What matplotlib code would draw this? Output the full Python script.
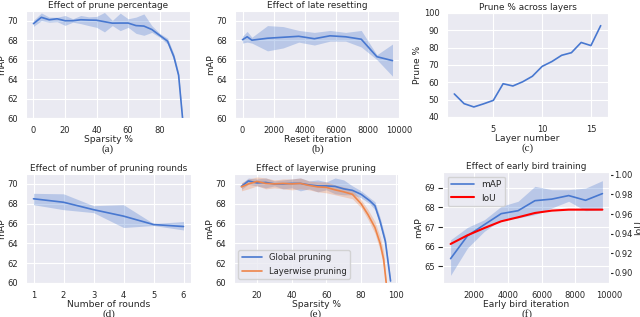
import numpy as np
import matplotlib
matplotlib.use("Agg")
import matplotlib.pyplot as plt
import seaborn as sns

sns.set_style("darkgrid")
plt.rcParams['font.family'] = ['DejaVu Sans']

blue = "#4878d0"
orange = "#ee854a"

# (a) prune percentage
a_x = [0, 5, 10, 15, 20, 25, 30, 35, 40, 45, 50, 55, 60, 65, 70, 75, 80, 85, 89, 92, 94.5]
a_y = [69.7, 70.35, 70.1, 70.2, 70.0, 70.0, 70.1, 70.07, 70.05, 69.9, 69.75, 69.76, 69.76, 69.5, 69.45, 69.1, 68.5, 67.9, 66.3, 64.4, 60.0]
a_lo = [69.42, 70.0, 69.85, 69.9, 69.52, 69.85, 69.7, 69.5, 69.32, 68.85, 69.5, 68.98, 69.32, 68.7, 68.5, 68.8, 68.3, 67.6, 65.9, 64.0, 59.8]
a_hi = [70.03, 70.8, 70.37, 70.35, 70.54, 70.2, 70.54, 70.4, 70.44, 70.85, 70.03, 70.78, 70.2, 70.37, 70.7, 69.5, 68.7, 68.2, 66.6, 64.7, 60.2]

# (b) late resetting
b_x = [0, 300, 600, 1600, 2600, 3600, 4600, 5600, 6600, 7600, 8600, 9600]
b_y = [68.05, 68.35, 68.0, 68.2, 68.3, 68.4, 68.15, 68.45, 68.35, 68.1, 66.3, 65.9]
b_lo = [67.7, 67.8, 67.7, 66.9, 67.2, 67.8, 67.5, 67.9, 67.9, 67.3, 66.0, 64.3]
b_hi = [68.4, 68.9, 68.3, 69.5, 69.4, 69.0, 68.8, 69.0, 68.8, 69.0, 66.5, 67.6]

# (c) prune % per layer
c_layer = list(range(1, 17))
c_pct = [53.3, 47.7, 45.8, 47.6, 49.6, 59.2, 57.9, 60.3, 63.5, 69.2, 72.0, 75.6, 77.1, 83.0, 81.2, 92.7]

# (d) pruning rounds
d_x = [1, 2, 3, 4, 5, 6]
d_y = [68.5, 68.15, 67.4, 66.75, 65.9, 65.7]
d_lo = [67.9, 67.4, 67.1, 65.6, 65.8, 65.35]
d_hi = [69.05, 69.0, 67.8, 67.9, 66.0, 66.2]

# (e) global vs layerwise
eg_x = [11, 15, 20, 25, 30, 35, 40, 45, 50, 55, 60, 65, 70, 75, 80, 85, 88, 91, 94, 97]
eg_y = [69.75, 70.3, 70.1, 70.15, 70.0, 70.0, 70.05, 70.05, 69.9, 69.8, 69.8, 69.75, 69.5, 69.35, 68.95, 68.3, 67.8, 66.2, 64.2, 60.2]
eg_lo = [69.45, 69.95, 69.8, 69.6, 69.8, 69.5, 69.6, 69.3, 69.5, 69.2, 69.4, 69.0, 68.9, 68.9, 68.6, 68.0, 67.4, 65.8, 63.8, 59.9]
eg_hi = [70.05, 70.6, 70.5, 70.6, 70.3, 70.4, 70.5, 70.6, 70.3, 70.4, 70.2, 70.6, 70.4, 69.8, 69.3, 68.6, 68.2, 66.6, 64.6, 60.5]

el_x = [11, 15, 20, 25, 30, 35, 40, 45, 50, 55, 60, 65, 70, 75, 80, 84, 88, 91, 93, 94.5]
el_y = [69.7, 70.0, 70.25, 70.05, 70.0, 70.05, 70.0, 70.05, 69.85, 69.7, 69.65, 69.4, 69.2, 68.95, 68.0, 66.9, 65.6, 64.0, 62.4, 60.0]
el_lo = [69.3, 69.5, 69.8, 69.5, 69.6, 69.5, 69.4, 69.5, 69.4, 69.2, 69.1, 68.9, 68.7, 68.5, 67.6, 66.4, 65.0, 63.3, 61.6, 59.5]
el_hi = [70.1, 70.5, 70.7, 70.6, 70.4, 70.5, 70.5, 70.6, 70.3, 70.2, 70.2, 69.9, 69.7, 69.4, 68.4, 67.4, 66.2, 64.7, 63.2, 60.5]

# (f) early bird
f_x = [600, 1600, 2600, 3600, 4600, 5600, 6600, 7600, 8600, 9600]
f_map = [65.39, 66.55, 67.12, 67.68, 67.83, 68.34, 68.42, 68.6, 68.36, 68.7]
f_lo = [64.54, 65.93, 66.78, 67.37, 67.46, 67.63, 67.97, 68.31, 67.83, 67.88]
f_hi = [66.35, 66.98, 67.37, 68.05, 68.31, 69.07, 68.9, 68.9, 68.98, 69.36]
f_iou = [0.9294, 0.9383, 0.9457, 0.9526, 0.9567, 0.9611, 0.9635, 0.9645, 0.9645, 0.9645]

W, H = 640, 317
fig = plt.figure(figsize=(6.4, 3.17), dpi=100)

def rect(l, r, t, b):
    return [l / W, 1 - b / H, (r - l) / W, (b - t) / H]

tfs, lfs, kfs = 6.4, 6.6, 6

def style(ax, title, xlabel, ylabel, cap):
    ax.set_title(title, fontsize=tfs, pad=2.5)
    ax.set_xlabel(xlabel, fontsize=lfs, labelpad=0.5)
    ax.set_ylabel(ylabel, fontsize=lfs, labelpad=1)
    ax.tick_params(labelsize=kfs, pad=2)
    pos = ax.get_position()
    fig.text(pos.x0 + pos.width / 2, pos.y0 - 0.083, cap, ha="center", va="top",
             fontsize=8, family="Liberation Serif")

ax = fig.add_axes(rect(26, 190, 11, 118))
ax.fill_between(a_x, a_lo, a_hi, color=blue, alpha=0.3, lw=0)
ax.plot(a_x, a_y, color=blue, lw=1.2)
ax.set_ylim(60, 71)
ax.set_yticks([60, 62, 64, 66, 68, 70])
style(ax, "Effect of prune percentage", "Sparsity %", "mAP", "(a)")

ax = fig.add_axes(rect(235, 400, 11, 118))
ax.fill_between(b_x, b_lo, b_hi, color=blue, alpha=0.3, lw=0)
ax.plot(b_x, b_y, color=blue, lw=1.2)
ax.set_ylim(60, 71)
ax.set_yticks([60, 62, 64, 66, 68, 70])
style(ax, "Effect of late resetting", "Reset iteration", "mAP", "(b)")

ax = fig.add_axes(rect(447, 608, 13, 117))
ax.plot(c_layer, c_pct, color=blue, lw=1.2)
ax.set_ylim(40, 100)
style(ax, "Prune % across layers", "Layer number", "Prune %", "(c)")

ax = fig.add_axes(rect(26, 191, 174, 283))
ax.fill_between(d_x, d_lo, d_hi, color=blue, alpha=0.3, lw=0)
ax.plot(d_x, d_y, color=blue, lw=1.2)
ax.set_ylim(60, 71)
ax.set_yticks([60, 62, 64, 66, 68, 70])
style(ax, "Effect of number of pruning rounds", "Number of rounds", "mAP", "(d)")

ax = fig.add_axes(rect(234, 398, 174, 283))
ax.fill_between(eg_x, eg_lo, eg_hi, color=blue, alpha=0.3, lw=0)
ax.plot(eg_x, eg_y, color=blue, lw=1.2, label="Global pruning")
ax.fill_between(el_x, el_lo, el_hi, color=orange, alpha=0.3, lw=0)
ax.plot(el_x, el_y, color=orange, lw=1.2, label="Layerwise pruning")
ax.set_ylim(60, 71)
ax.set_yticks([60, 62, 64, 66, 68, 70])
ax.legend(loc="lower left", fontsize=6, handlelength=2.5)
style(ax, "Effect of layerwise pruning", "Sparsity %", "mAP", "(e)")

ax = fig.add_axes(rect(443, 610, 172, 283))
ax.fill_between(f_x, f_lo, f_hi, color=blue, alpha=0.3, lw=0)
l1, = ax.plot(f_x, f_map, color=blue, lw=1.2, label="mAP")
ax.set_ylim(64.15, 69.8)
ax2 = ax.twinx()
l2, = ax2.plot(f_x, f_iou, color="red", lw=1.5, label="IoU")
ax2.set_ylim(0.8895, 1.003)
ax2.grid(False)
ax2.set_ylabel("IoU", fontsize=lfs, labelpad=1)
ax2.tick_params(labelsize=kfs, pad=1, length=2, right=True)
ax2.set_yticks([0.90, 0.92, 0.94, 0.96, 0.98, 1.00])
ax2.set_yticklabels(["0.90", "0.92", "0.94", "0.96", "0.98", "1.00"])
ax2.legend(handles=[l1, l2], loc="upper left", fontsize=6.5, handlelength=2.5)
style(ax, "Effect of early bird training", "Early bird iteration", "mAP", "(f)")

fig.savefig("out.png", dpi=100)
